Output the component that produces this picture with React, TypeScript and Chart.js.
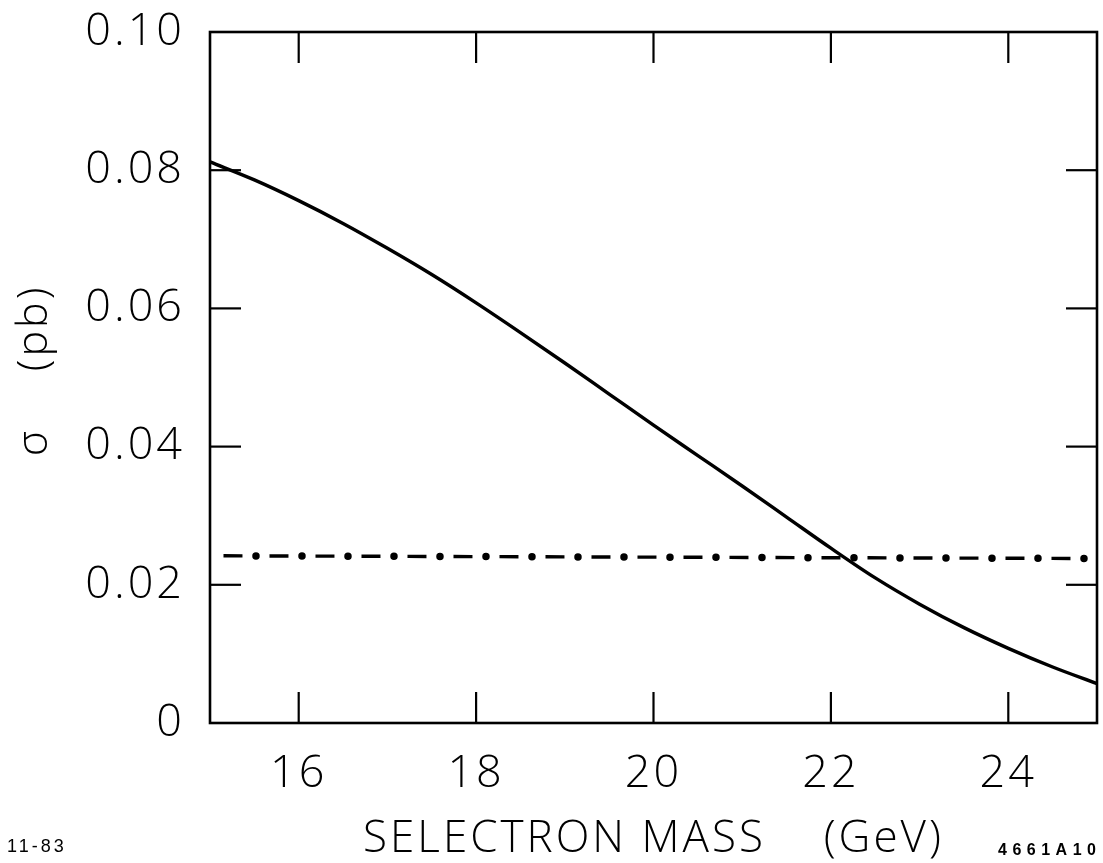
import React, { useEffect, useRef } from "react";
import { Chart, registerables } from "chart.js";

Chart.register(...registerables);

// Selectron mass (GeV) and cross section sigma (pb) of the solid curve
const massGeV = [15, 15.5, 16, 16.5, 17, 17.5, 18, 18.5, 19, 19.5, 20, 20.5, 21, 21.5, 22, 22.5, 23, 23.5, 24, 24.5, 25];
const sigmaPb = [0.0812, 0.0786, 0.0756, 0.0723, 0.0687, 0.0649, 0.0608, 0.0565, 0.0521, 0.0476, 0.0431, 0.0387, 0.0343, 0.0298, 0.0253, 0.021, 0.0172, 0.0138, 0.0108, 0.0081, 0.0057];

// Dash-dot limit line
const limitMass = [15.09, 25];
const limitSigma = [0.0242, 0.0238];

// Axis ticks
const xTickValues = [16, 18, 20, 22, 24];
const xTickLabels = ["16", "18", "20", "22", "24"];
const yTickValues = [0, 0.02, 0.04, 0.06, 0.08, 0.1];
const yTickLabels = ["0", "0.02", "0.04", "0.06", "0.08", "0.10"];

const xTitle = "SELECTRON MASS    (GeV)";
const yTitle = " σ    (pb)";

const FONT = "'Open Sans', 'Liberation Sans', sans-serif";

const letterSpacingPlugin = {
  id: "letterSpacing",
  beforeDraw(chart: any) {
    (chart.ctx as any).letterSpacing = "3px";
  },
  afterDraw(chart: any) {
    (chart.ctx as any).letterSpacing = "0px";
  },
};

const frameTicks = {
  id: "frameTicks",
  afterDatasetsDraw(chart: any) {
    const { ctx, chartArea: a, scales } = chart;
    const x = scales.x;
    const y = scales.y;
    const L = 31;
    ctx.save();
    ctx.strokeStyle = "#000";
    ctx.lineCap = "butt";
    ctx.lineWidth = 2.6;
    ctx.strokeRect(a.left, a.top, a.right - a.left, a.bottom - a.top);
    ctx.lineWidth = 2.2;
    const seg = (x1: number, y1: number, x2: number, y2: number) => {
      ctx.beginPath();
      ctx.moveTo(x1, y1);
      ctx.lineTo(x2, y2);
      ctx.stroke();
    };
    for (const v of xTickValues) {
      const px = x.getPixelForValue(v);
      seg(px, a.bottom, px, a.bottom - L);
      seg(px, a.top, px, a.top + L);
    }
    for (const v of yTickValues) {
      if (v <= 0 || v >= 0.1) continue;
      const py = y.getPixelForValue(v);
      seg(a.left, py, a.left + L, py);
      seg(a.right, py, a.right - L, py);
    }
    ctx.restore();
  },
};

export default function App() {
  const canvasRef = useRef<HTMLCanvasElement | null>(null);

  useEffect(() => {
    const canvas = canvasRef.current;
    if (!canvas) return;
    const curve = massGeV.map((m, i) => ({ x: m, y: sigmaPb[i] }));
    const limit = limitMass.map((m, i) => ({ x: m, y: limitSigma[i] }));

    const chart = new Chart(canvas, {
      type: "line",
      data: {
        datasets: [
          {
            data: curve,
            borderColor: "#000",
            borderWidth: 3.4,
            pointRadius: 0,
            cubicInterpolationMode: "monotone",
            fill: false,
          },
          {
            data: limit,
            borderColor: "#000",
            borderWidth: 3.4,
            borderDash: [19, 27],
            borderDashOffset: -5.5,
            pointRadius: 0,
            fill: false,
          },
          {
            data: limit,
            borderColor: "#000",
            borderWidth: 7.5,
            borderCapStyle: "round",
            borderDash: [0, 46],
            borderDashOffset: 8,
            pointRadius: 0,
            fill: false,
          },
        ],
      },
      plugins: [letterSpacingPlugin, frameTicks],
      options: {
        animation: false,
        responsive: false,
        devicePixelRatio: 1,
        layout: { padding: { top: 32, right: 6, left: 0, bottom: 0 } },
        plugins: { legend: { display: false }, tooltip: { enabled: false } },
        scales: {
          x: {
            type: "linear",
            min: 15,
            max: 25,
            grid: { display: false },
            border: { display: false },
            afterBuildTicks: (s: any) => {
              s.ticks = xTickValues.map((v) => ({ value: v }));
            },
            afterFit: (s: any) => {
              s.height = 140;
              s.paddingLeft = 0;
              s.paddingRight = 0;
            },
            ticks: {
              color: "#000",
              padding: 16,
              maxRotation: 0,
              autoSkip: false,
              font: { family: FONT, size: 45, weight: "300" as any },
              callback: (_v: any, i: number) => xTickLabels[i],
            },
            title: {
              display: true,
              text: xTitle,
              color: "#000",
              padding: { top: 0, bottom: 2 },
              font: { family: FONT, size: 44, weight: "300" as any, lineHeight: 1 },
            },
          },
          y: {
            type: "linear",
            min: 0,
            max: 0.1,
            grid: { display: false },
            border: { display: false },
            afterBuildTicks: (s: any) => {
              s.ticks = yTickValues.map((v) => ({ value: v }));
            },
            afterFit: (s: any) => {
              s.width = 210;
              s.paddingTop = 0;
              s.paddingBottom = 0;
            },
            ticks: {
              color: "#000",
              padding: 17,
              autoSkip: false,
              font: { family: FONT, size: 45, weight: "300" as any },
              callback: (_v: any, i: number) => yTickLabels[i],
            },
            title: {
              display: true,
              text: yTitle,
              color: "#000",
              padding: { top: 13, bottom: 0 },
              font: { family: FONT, size: 43, weight: "300" as any, lineHeight: 1 },
            },
          },
        },
      },
    } as any);
    return () => chart.destroy();
  }, []);

  return (
    <div style={{ position: "fixed", left: 0, top: 0, width: 1103, height: 863, background: "#fff" }}>
      <canvas ref={canvasRef} width={1103} height={863} style={{ display: "block" }} />
      <span
        style={{
          position: "absolute",
          left: 7,
          top: 835,
          fontFamily: "'Liberation Sans', Arial, sans-serif",
          fontSize: 18,
          letterSpacing: 3,
          color: "#000",
          lineHeight: "22px",
        }}
      >
        11-83
      </span>
      <span
        style={{
          position: "absolute",
          left: 998,
          top: 840,
          fontFamily: "'Liberation Sans', Arial, sans-serif",
          fontSize: 16,
          fontWeight: "bold",
          letterSpacing: 5.5,
          color: "#000",
          lineHeight: "20px",
          whiteSpace: "nowrap",
        }}
      >
        4661A10
      </span>
    </div>
  );
}
